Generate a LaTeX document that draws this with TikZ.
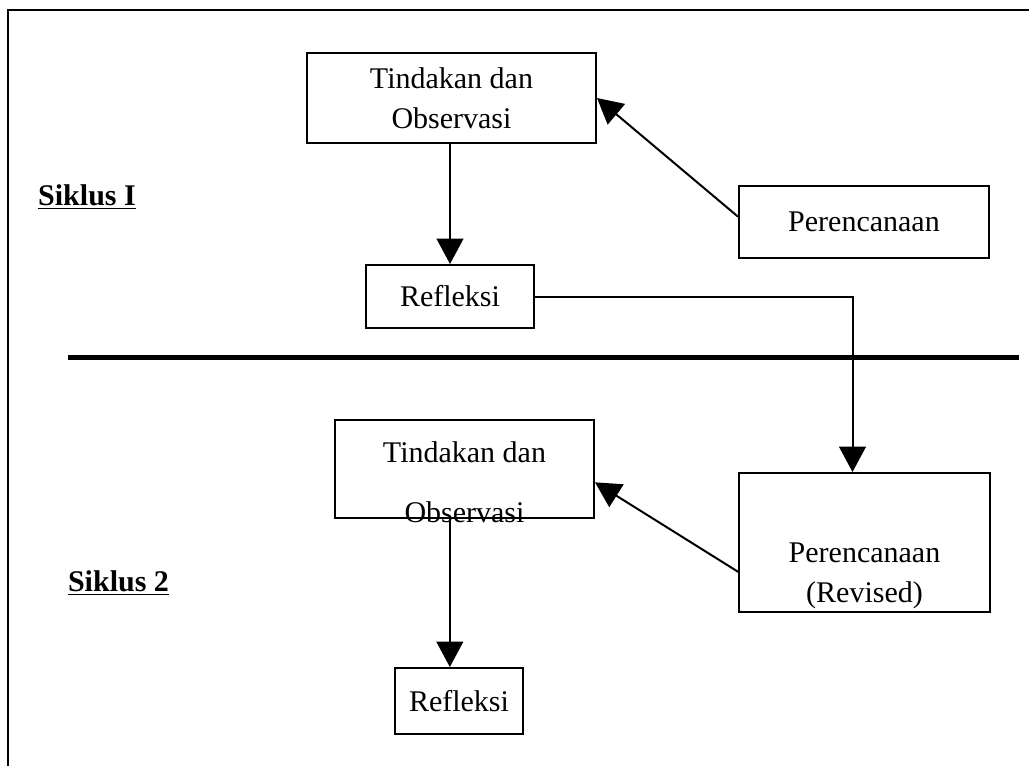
\documentclass[tikz,border=0pt]{standalone}
\usepackage{fontspec}
\setmainfont{Liberation Serif}
\usetikzlibrary{arrows.meta}
\begin{document}
\begin{tikzpicture}[x=0.75pt,y=-0.75pt,
  box/.style={draw=black,line width=1.5pt,inner sep=0pt,align=center,
    font=\fontsize{22.5}{30}\selectfont},
  txt/.style={inner sep=0pt,align=center,font=\fontsize{22.5}{30}\selectfont},
  lbl/.style={inner sep=0pt,font=\fontsize{22.5}{27}\selectfont\bfseries},
  arr/.style={line width=1.5pt,-{Triangle[length=19pt,width=20pt]}},
  conn/.style={line width=1.5pt}]
\useasboundingbox (0,0) rectangle (1029,765);
\clip (0,0) rectangle (1029,765);
\draw[line width=2pt] (8,10) rectangle (1060,800);
% Siklus 1
\node[box,minimum width=216.75pt,minimum height=67.5pt] (tin1) at (451.5,98) {Tindakan dan\\Observasi};
\node[box,minimum width=126pt,minimum height=47.25pt] (ref1) at (450,296.5) {Refleksi};
\node[box,minimum width=187.5pt,minimum height=54pt] (per1) at (864,222) {Perencanaan};
\node[lbl] (s1) at (87,197) {\underline{Siklus I}};
\draw[arr] (ref1.north |- tin1.south) -- (ref1.north);
\draw[arr] ([yshift=4pt]per1.west) -- (tin1.east);
% separator
\draw[line width=3.75pt] (68,357) -- (1019,357);
% Siklus 2
\node[box,minimum width=194.25pt,minimum height=73.5pt] (tin2) at (464.5,469) {};
\node[txt] (tin2t) at (464.5,482) {Tindakan dan\\[15pt]Observasi};
\node[box,minimum width=188pt,minimum height=104.25pt] (per2) at (864.5,542.5) {};
\node[txt] (per2t) at (864.5,576) {Perencanaan\\(Revised)};
\node[box,minimum width=96pt,minimum height=49.5pt] (ref2) at (459,701) {Refleksi};
\node[lbl] (s2) at (118.5,583) {\underline{Siklus 2}};
\draw[arr] ([xshift=-11pt]tin2.south) -- ([xshift=-11pt]tin2.south |- ref2.north);
\draw[arr] ([yshift=-22pt]per2.west) -- ([yshift=-10pt]tin2.east);
\draw[arr] (ref1.east) -| ([xshift=-9pt]per2.north);
\end{tikzpicture}
\end{document}
